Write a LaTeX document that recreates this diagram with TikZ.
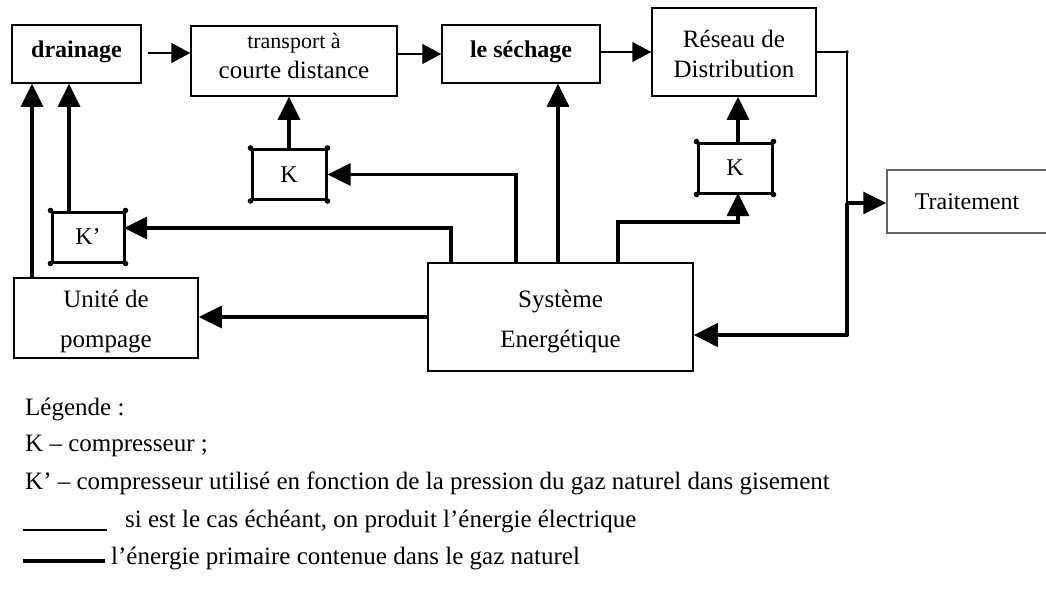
\documentclass[tikz,border=0pt]{standalone}
\usepackage{fontspec}
\setmainfont{Liberation Serif}
\usetikzlibrary{arrows.meta,calc}

\tikzset{
  box/.style={draw, line width=1.5pt, inner sep=0pt},
  graybox/.style={draw=black!60, line width=1.5pt, inner sep=0pt},
  kbox/.style={draw, line width=3pt, inner sep=0pt, minimum width=74pt,
    minimum height=50pt, font=\fontsize{24}{28}\selectfont},
  txt/.style={inner sep=0pt, align=center, font=\fontsize{25}{30}\selectfont},
  txtwide/.style={inner sep=0pt, align=center, font=\fontsize{25}{40}\selectfont},
  txtbold/.style={inner sep=0pt, font=\fontsize{24}{28}\selectfont\bfseries},
  legend/.style={inner sep=0pt, anchor=west, font=\fontsize{25}{28}\selectfont},
  flow/.style={line width=1.5pt, -{Triangle[length=19pt,width=20pt]}},
  feed/.style={line width=3.4pt, -{Triangle[length=23pt,width=22pt]}},
  dot/.style={fill=black},
}

\begin{document}
\begin{tikzpicture}[x=1pt,y=-1pt]
  \clip (0,0) rectangle (1046,603);

  % process chain
  \node[box, minimum width=129pt, minimum height=58pt] (drain) at (76.5,54) {};
  \node[txtbold] (draint) at (76.5,52) {drainage};
  \node[box, minimum width=206pt, minimum height=70pt] (trans) at (294,61) {};
  \node[txt] (transt) at (294,56) {{\fontsize{22}{30}\selectfont transport à}\\courte distance};
  \node[box, minimum width=158pt, minimum height=58pt] (sech) at (521,54) {};
  \node[txtbold] (secht) at (521,52) {le séchage};
  \node[box, minimum width=164pt, minimum height=88pt] (res) at (734,52) {};
  \node[txt] (rest) at (734,54) {Réseau de\\Distribution};
  \node[graybox, minimum width=163pt, minimum height=63pt] (trait) at (968.5,201.5) {};
  \node[inner sep=0pt, font=\fontsize{24}{28}\selectfont] (traitt) at (967,202) {Traitement};

  % compressors
  \node[kbox] (kt) at (289,174.5) {K};
  \node[kbox] (kr) at (735,168) {K};
  \node[kbox, minimum width=72pt] (kp) at (88,237) {K’};
  \foreach \k in {kt,kr,kp}{
    \foreach \c in {north west,north east,south west,south east}
      \fill[dot] (\k.\c) circle (2.8pt);
  }

  % pumping unit and energy system
  \node[box, minimum width=184pt, minimum height=80pt] (pomp) at (106,318) {};
  \node[txtwide] (pompt) at (106,321) {Unité de\\pompage};
  \node[box, minimum width=265pt, minimum height=108pt] (sys) at (560.5,317) {};
  \node[txtwide] (syst) at (560.5,321) {Système\\Energétique};

  % junction points
  \coordinate (jtop) at (847,52);
  \coordinate (jmid) at (847,203);
  \coordinate (jbot) at (847,335);
  \coordinate (skp) at (451,263);
  \coordinate (skt) at (516,263);
  \coordinate (ssech) at (558,263);
  \coordinate (skr) at (618,263);
  \coordinate (pkp) at (69,212);
  \coordinate (ppomp) at (32,278);
  \coordinate (kpin) at (124,228);
  \coordinate (krin) at (738,193);

  % main gas flow
  \draw[flow, shorten <=6pt] (drain.east |- 0,53) -- (trans.west |- 0,53);
  \draw[flow] (trans.east |- sech.west) -- (sech.west);
  \draw[flow] (sech.east |- res.west) -- (res.west);
  \draw[line width=1.5pt] (res.east) -- (jtop);
  \fill[dot] (jtop) circle (1.8pt);
  \draw[line width=2.8pt] (jtop) -- (jmid);
  \draw[feed] (jmid) -- (jmid -| trait.west);
  \draw[line width=4pt, line join=round, -{Triangle[length=24pt,width=23pt]}]
    (jmid) -- (jbot) -- (jbot -| sys.east);

  % energy supply lines
  \draw[feed] (skp) -- (skp |- kpin) -- (kpin);
  \draw[feed] (skt) -- (skt |- kt.east) -- (kt.east);
  \draw[feed] (ssech) -- (ssech |- sech.south);
  \draw[feed] (skr) -- (skr |- 0,222) -- (krin |- 0,222) -- (krin);
  \draw[feed] (sys.west) -- (pomp.east |- sys.west);
  \draw[feed] (kt.north) -- (kt.north |- trans.south);
  \draw[feed] (kr.north -| krin) -- (krin |- res.south);
  \draw[feed] (pkp) -- (pkp |- drain.south);
  \draw[feed] (ppomp) -- (ppomp |- drain.south);

  % legend
  \node[legend] (lg0) at (25,409) {Légende :};
  \node[legend] (lg1) at (25,446) {K – compresseur ;};
  \node[legend] (lg2) at (25,483) {K’ – compresseur utilisé en fonction de la pression du gaz naturel dans gisement};
  \draw[line width=2.4pt] (23,530) -- (107,530);
  \node[legend] (lg3) at (125,521) {si est le cas échéant, on produit l’énergie électrique};
  \draw[line width=3.4pt] (23,561) -- (105,561);
  \node[legend] (lg4) at (111,558) {l’énergie primaire contenue dans le gaz naturel};
\end{tikzpicture}
\end{document}
